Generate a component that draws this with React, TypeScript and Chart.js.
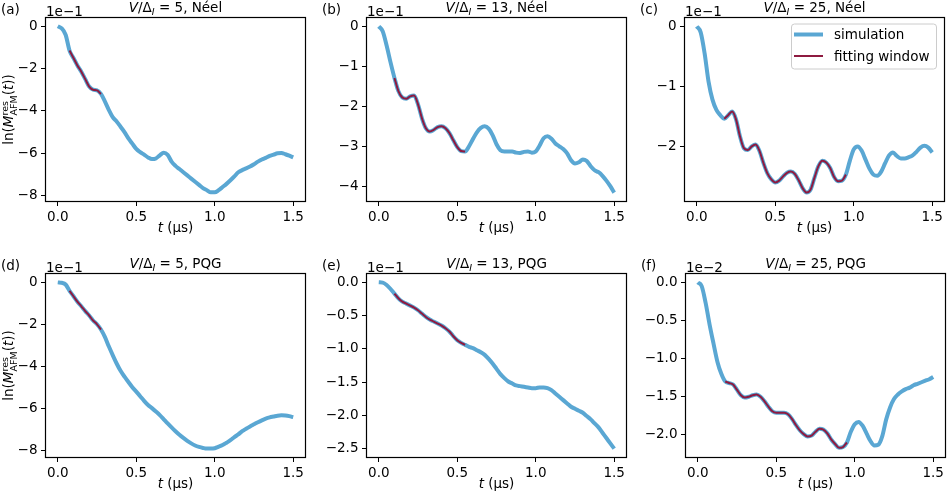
import React, { useEffect, useRef } from "react";
import { Chart, registerables } from "chart.js";

Chart.register(...registerables);

// ---------------- data (values shown in the units of each panel's offset text) -------------
// time axis, µs
const TIMES = [
  0, 0.025, 0.05, 0.075, 0.1, 0.125, 0.15, 0.175, 0.2, 0.225,
  0.25, 0.275, 0.3, 0.325, 0.35, 0.375, 0.4, 0.425, 0.45, 0.475,
  0.5, 0.525, 0.55, 0.575, 0.6, 0.625, 0.65, 0.675, 0.7, 0.725,
  0.75, 0.775, 0.8, 0.825, 0.85, 0.875, 0.9, 0.925, 0.95, 0.975,
  1.0, 1.025, 1.05, 1.075, 1.1, 1.125, 1.15, 1.175, 1.2, 1.225,
  1.25, 1.275, 1.3, 1.325, 1.35, 1.375, 1.4, 1.425, 1.45, 1.475,
  1.5,
];

// (a) V/ΔI = 5, Néel  (×1e-1)
const SIM_A = [
  0, -0.1, -0.4, -1.15, -1.5, -1.85, -2.15, -2.5, -2.85, -3.0,
  -3.03, -3.2, -3.55, -3.95, -4.3, -4.5, -4.75, -5.0, -5.3, -5.55,
  -5.8, -5.95, -6.07, -6.2, -6.28, -6.25, -6.1, -5.98, -6.08, -6.4,
  -6.6, -6.75, -6.9, -7.05, -7.2, -7.35, -7.5, -7.65, -7.75, -7.85,
  -7.85, -7.75, -7.6, -7.45, -7.28, -7.1, -6.9, -6.8, -6.72, -6.63,
  -6.52, -6.4, -6.3, -6.22, -6.13, -6.07, -6.0, -5.99, -6.05, -6.12,
  -6.2,
];
// (b) V/ΔI = 13, Néel  (×1e-1)
const SIM_B = [
  0, -0.12, -0.48, -0.9, -1.29, -1.62, -1.78, -1.81, -1.75, -1.73,
  -1.95, -2.3, -2.55, -2.63, -2.59, -2.52, -2.5, -2.55, -2.67, -2.85,
  -3.02, -3.12, -3.13, -3.0, -2.82, -2.65, -2.54, -2.5, -2.56, -2.72,
  -2.95, -3.1, -3.13, -3.13, -3.13, -3.16, -3.17, -3.14, -3.13, -3.16,
  -3.13, -2.98, -2.8, -2.75, -2.81, -2.93, -3.0, -3.07, -3.18, -3.35,
  -3.43, -3.4, -3.33, -3.37, -3.5, -3.6, -3.65, -3.74, -3.86, -4.0,
  -4.16,
];
// (c) V/ΔI = 25, Néel  (×1e-1)
const SIM_C = [
  0, -0.1, -0.45, -0.92, -1.22, -1.39, -1.48, -1.54, -1.48, -1.42,
  -1.55, -1.83, -2.03, -2.06, -2.0, -1.97, -2.08, -2.28, -2.45, -2.55,
  -2.6, -2.57, -2.5, -2.44, -2.42, -2.46, -2.57, -2.7, -2.77, -2.72,
  -2.52, -2.33, -2.24, -2.27, -2.36, -2.51, -2.58, -2.57, -2.47, -2.24,
  -2.05, -2.0, -2.07, -2.22, -2.37, -2.47, -2.49, -2.42, -2.28, -2.15,
  -2.1, -2.16, -2.2, -2.2, -2.18, -2.15, -2.09, -2.02, -1.99, -2.02,
  -2.1,
];
// (d) V/ΔI = 5, PQG  (×1e-1)
const SIM_D = [
  0, -0.02, -0.1, -0.4, -0.66, -0.92, -1.14, -1.37, -1.58, -1.82,
  -2.0, -2.25, -2.6, -3.05, -3.47, -3.87, -4.22, -4.5, -4.75, -5.0,
  -5.21, -5.43, -5.65, -5.85, -6.0, -6.16, -6.33, -6.53, -6.73, -6.92,
  -7.1, -7.27, -7.42, -7.56, -7.68, -7.78, -7.85, -7.9, -7.93, -7.93,
  -7.91, -7.84, -7.76, -7.65, -7.53, -7.38, -7.25, -7.1, -6.98, -6.87,
  -6.77, -6.67, -6.58, -6.5, -6.44, -6.4, -6.36, -6.34, -6.35, -6.38,
  -6.43,
];
// (e) V/ΔI = 13, PQG  (×1e-1)
const SIM_E = [
  0, -0.005, -0.04, -0.1, -0.17, -0.24, -0.29, -0.32, -0.35, -0.38,
  -0.42, -0.47, -0.52, -0.56, -0.59, -0.62, -0.65, -0.69, -0.74, -0.81,
  -0.87, -0.91, -0.94, -0.97, -0.99, -1.02, -1.05, -1.09, -1.15, -1.22,
  -1.3, -1.38, -1.44, -1.49, -1.52, -1.55, -1.56, -1.57, -1.58, -1.59,
  -1.59, -1.58, -1.58, -1.59, -1.62, -1.67, -1.72, -1.77, -1.82, -1.87,
  -1.9, -1.93, -1.96, -2.01, -2.06, -2.12, -2.18, -2.26, -2.34, -2.42,
  -2.5,
];
// (f) V/ΔI = 25, PQG  (×1e-2)
const SIM_F = [
  0, -0.05, -0.27, -0.55, -0.8, -1.04, -1.2, -1.3, -1.32, -1.34,
  -1.41, -1.48, -1.51, -1.5, -1.48, -1.47, -1.5, -1.56, -1.63, -1.69,
  -1.71, -1.71, -1.71, -1.73, -1.79, -1.87, -1.94, -1.99, -2.02, -2.01,
  -1.96, -1.92, -1.93, -1.98, -2.06, -2.12, -2.17, -2.16, -2.1, -1.96,
  -1.86, -1.83, -1.88, -1.98, -2.08, -2.14, -2.13, -2.02, -1.8, -1.64,
  -1.53, -1.47, -1.43, -1.4, -1.38, -1.35, -1.33, -1.31, -1.29, -1.27,
  -1.24,
];

// fitting windows [start, end] in µs
const WINDOW_A = [0.075, 0.275];
const WINDOW_B = [0.1, 0.55];
const WINDOW_C = [0.175, 0.95];
const WINDOW_D = [0.075, 0.275];
const WINDOW_E = [0.1, 0.55];
const WINDOW_F = [0.175, 0.95];

// tick labels
const X_TICKS = [0, 0.5, 1.0, 1.5];
const Y_TICKS_A = [0, -2, -4, -6, -8];
const Y_TICKS_B = [0, -1, -2, -3, -4];
const Y_TICKS_C = [0, -1, -2];
const Y_TICKS_D = [0, -2, -4, -6, -8];
const Y_TICKS_E = [0, -0.5, -1.0, -1.5, -2.0, -2.5];
const Y_TICKS_F = [0, -0.5, -1.0, -1.5, -2.0];

// text
const PANEL_LABELS = ["(a)", "(b)", "(c)", "(d)", "(e)", "(f)"];
const V_RATIOS = ["5", "13", "25", "5", "13", "25"];
const STATES = ["Néel", "Néel", "Néel", "PQG", "PQG", "PQG"];
const OFFSET_TEXTS = ["1e\u22121", "1e\u22121", "1e\u22121", "1e\u22121", "1e\u22121", "1e\u22122"];
const LEGEND_LABELS = ["simulation", "fitting window"];

// ---------------- styling / layout ----------------
const FONT = '"DejaVu Sans", "Liberation Sans", sans-serif';
const FS = 13.5;
const SS = 9.5;
const BLUE = "#5aa7d3";
const RED = "#8e1a40";

const PAD_L = 46;
const PAD_R = 4;
const PAD_T = 18;
const PAD_B = 42;
const FRAME_W = 259;
const FRAME_H = 183;

type Piece = { t: string; s?: number; i?: boolean; dy?: number; stack?: boolean };

function drawRich(ctx: CanvasRenderingContext2D, pieces: Piece[], x: number, y: number, align: "left" | "center") {
  const fontOf = (p: Piece) => `${p.i ? "italic " : ""}${p.s ?? FS}px ${FONT}`;
  let total = 0;
  let pending = 0;
  const adv: number[] = [];
  for (const p of pieces) {
    ctx.font = fontOf(p);
    const w = ctx.measureText(p.t).width;
    if (p.stack) {
      pending = w;
      adv.push(0);
    } else {
      const a = Math.max(w, pending);
      pending = 0;
      adv.push(a);
      total += a;
    }
  }
  let cx = align === "center" ? x - total / 2 : x;
  ctx.textAlign = "left";
  ctx.textBaseline = "alphabetic";
  pieces.forEach((p, k) => {
    ctx.font = fontOf(p);
    ctx.fillText(p.t, cx, y + (p.dy ?? 0));
    cx += adv[k];
  });
}

const X_TITLE: Piece[] = [{ t: "t", i: true }, { t: " (µs)" }];
const Y_TITLE: Piece[] = [
  { t: "ln(" },
  { t: "M", i: true },
  { t: "res", s: SS, dy: -5.5, stack: true },
  { t: "AFM", s: SS, dy: 3.5 },
  { t: "(" },
  { t: "t", i: true },
  { t: "))" },
];

function roundRectPath(ctx: CanvasRenderingContext2D, x: number, y: number, w: number, h: number, r: number) {
  ctx.beginPath();
  ctx.moveTo(x + r, y);
  ctx.arcTo(x + w, y, x + w, y + h, r);
  ctx.arcTo(x + w, y + h, x, y + h, r);
  ctx.arcTo(x, y + h, x, y, r);
  ctx.arcTo(x, y, x + w, y, r);
  ctx.closePath();
}

function drawLegend(ctx: CanvasRenderingContext2D, ca: any) {
  const w = 145;
  const h = 45;
  const x0 = ca.right - 8 - w;
  const y0 = ca.top + 5.5;
  roundRectPath(ctx, x0 + 0.5, y0 + 0.5, w, h, 3);
  ctx.fillStyle = "rgba(255,255,255,0.8)";
  ctx.fill();
  ctx.strokeStyle = "#cccccc";
  ctx.lineWidth = 1;
  ctx.stroke();
  const colors = [BLUE, RED];
  const widths = [4, 2];
  LEGEND_LABELS.forEach((lab, k) => {
    const ry = y0 + 11 + k * 21.5;
    ctx.beginPath();
    ctx.moveTo(x0 + 3, ry);
    ctx.lineTo(x0 + 32, ry);
    ctx.strokeStyle = colors[k];
    ctx.lineWidth = widths[k];
    ctx.stroke();
    ctx.fillStyle = "#000";
    drawRich(ctx, [{ t: lab }], x0 + 43, ry + 4.8, "left");
  });
}

type Spec = {
  idx: number;
  values: number[];
  window: number[];
  yTicks: number[];
  yMin: number;
  yMax: number;
  yDec: number;
  left: number;
  top: number;
};

const SPECS: Spec[] = [
  { idx: 0, values: SIM_A, window: WINDOW_A, yTicks: Y_TICKS_A, yMin: -8.26, yMax: 0.39, yDec: 0, left: 46, top: 18 },
  { idx: 1, values: SIM_B, window: WINDOW_B, yTicks: Y_TICKS_B, yMin: -4.37, yMax: 0.21, yDec: 0, left: 367, top: 18 },
  { idx: 2, values: SIM_C, window: WINDOW_C, yTicks: Y_TICKS_C, yMin: -2.91, yMax: 0.14, yDec: 0, left: 685, top: 18 },
  { idx: 3, values: SIM_D, window: WINDOW_D, yTicks: Y_TICKS_D, yMin: -8.33, yMax: 0.4, yDec: 0, left: 46, top: 274 },
  { idx: 4, values: SIM_E, window: WINDOW_E, yTicks: Y_TICKS_E, yMin: -2.625, yMax: 0.125, yDec: 1, left: 367, top: 274 },
  { idx: 5, values: SIM_F, window: WINDOW_F, yTicks: Y_TICKS_F, yMin: -2.29, yMax: 0.109, yDec: 1, left: 686, top: 274 },
];

const fmt = (v: number, d: number) => {
  const r = Math.round(v * 1e6) / 1e6;
  const s = Math.abs(r).toFixed(d);
  return r < 0 ? "\u2212" + s : s;
};

function Panel({ spec }: { spec: Spec }) {
  const ref = useRef<HTMLCanvasElement>(null);
  const W = PAD_L + FRAME_W + PAD_R;
  const H = PAD_T + FRAME_H + PAD_B;

  useEffect(() => {
    if (!ref.current) return;
    const simPts = TIMES.map((t, k) => ({ x: t, y: spec.values[k] }));
    const fitPts = simPts.filter((p) => p.x >= spec.window[0] - 1e-9 && p.x <= spec.window[1] + 1e-9);
    const i = spec.idx;

    const decor = {
      id: "decor",
      afterDraw(chart: any) {
        const ctx: CanvasRenderingContext2D = chart.ctx;
        const ca = chart.chartArea;
        ctx.save();
        ctx.strokeStyle = "#000";
        ctx.lineWidth = 1.2;
        ctx.strokeRect(ca.left - 0.5, ca.top - 0.5, ca.right - ca.left + 1, ca.bottom - ca.top + 1);
        ctx.fillStyle = "#000";
        const cx = (ca.left + ca.right) / 2;
        const title: Piece[] = [
          { t: "V", i: true },
          { t: "/Δ" },
          { t: "I", i: true, s: SS, dy: 3 },
          { t: " = " + V_RATIOS[i] },
          { t: ", " + STATES[i] },
        ];
        drawRich(ctx, title, cx, ca.top - 6.5, "center");
        drawRich(ctx, [{ t: PANEL_LABELS[i] }], ca.left - 45, ca.top - 4.5, "left");
        drawRich(ctx, [{ t: OFFSET_TEXTS[i] }], ca.left, ca.top - 2.5, "left");
        drawRich(ctx, X_TITLE, cx, ca.bottom + 31, "center");
        if (i % 3 === 0) {
          ctx.save();
          ctx.translate(13, (ca.top + ca.bottom) / 2);
          ctx.rotate(-Math.PI / 2);
          drawRich(ctx, Y_TITLE, 0, 0, "center");
          ctx.restore();
        }
        if (i === 2) drawLegend(ctx, ca);
        ctx.restore();
      },
    };

    const tickFont = { family: FONT, size: FS };
    const chart = new Chart(ref.current, {
      type: "line",
      data: {
        datasets: [
          {
            label: LEGEND_LABELS[1],
            data: fitPts,
            borderColor: RED,
            borderWidth: 2,
            pointRadius: 0,
            fill: false,
            cubicInterpolationMode: "monotone",
            order: 0,
          },
          {
            label: LEGEND_LABELS[0],
            data: simPts,
            borderColor: BLUE,
            borderWidth: 4,
            pointRadius: 0,
            fill: false,
            cubicInterpolationMode: "monotone",
            order: 1,
          },
        ],
      },
      options: {
        responsive: false,
        animation: false,
        devicePixelRatio: 1,
        events: [],
        layout: { padding: { left: 0, right: PAD_R, top: PAD_T, bottom: 0 } },
        plugins: { legend: { display: false }, tooltip: { enabled: false } },
        scales: {
          x: {
            type: "linear",
            min: -0.075,
            max: 1.575,
            afterFit: (s: any) => {
              s.height = PAD_B;
            },
            afterBuildTicks: (s: any) => {
              s.ticks = X_TICKS.map((v) => ({ value: v }));
            },
            ticks: {
              autoSkip: false,
              maxRotation: 0,
              color: "#000",
              font: tickFont,
              padding: 3,
              callback: (v: any) => fmt(Number(v), 1),
            },
            grid: { drawOnChartArea: false, drawTicks: true, tickLength: 5, color: "#000", lineWidth: 1 },
            border: { display: false },
          },
          y: {
            type: "linear",
            min: spec.yMin,
            max: spec.yMax,
            afterFit: (s: any) => {
              s.width = PAD_L;
            },
            afterBuildTicks: (s: any) => {
              s.ticks = spec.yTicks.map((v) => ({ value: v }));
            },
            ticks: {
              autoSkip: false,
              color: "#000",
              font: tickFont,
              padding: 3.5,
              callback: (v: any) => fmt(Number(v), spec.yDec),
            },
            grid: { drawOnChartArea: false, drawTicks: true, tickLength: 5, color: "#000", lineWidth: 1 },
            border: { display: false },
          },
        },
      } as any,
      plugins: [decor],
    } as any);
    return () => chart.destroy();
  }, [spec]);

  return (
    <canvas
      ref={ref}
      width={W}
      height={H}
      style={{ position: "absolute", left: spec.left - PAD_L, top: spec.top - PAD_T, width: W, height: H }}
    />
  );
}

export default function App() {
  return (
    <div
      style={{
        position: "fixed",
        left: 0,
        top: 0,
        width: 947,
        height: 496,
        overflow: "hidden",
        background: "#fff",
      }}
    >
      {SPECS.map((s) => (
        <Panel key={s.idx} spec={s} />
      ))}
    </div>
  );
}
